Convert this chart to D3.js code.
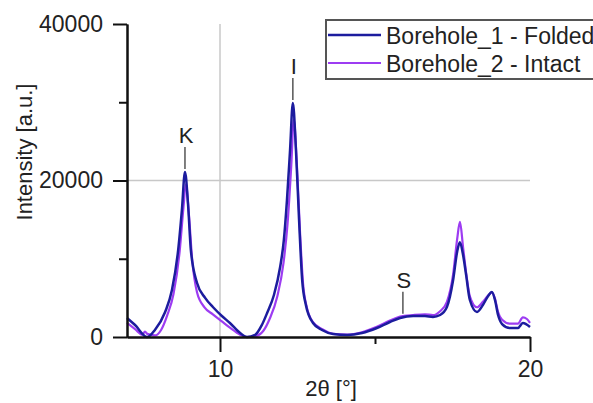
<!DOCTYPE html>
<html>
<head>
<meta charset="utf-8">
<script src="https://cdn.jsdelivr.net/npm/d3@7"></script>
<style>
body { margin: 0; background: #fff; }
text { font-family: "Liberation Sans", Arial, sans-serif; fill: #222; }
</style>
</head>
<body>
<div id="container"></div>
<script>
// two-theta positions (deg) and intensities
var folded = [
  [7.00, 2430], [7.26, 1530], [7.65, 0], [7.90, 900], [8.23, 3200], [8.45, 6000],
  [8.65, 11100], [8.77, 16200], [8.87, 21100], [8.97, 16900], [9.06, 11100],
  [9.26, 6900], [9.52, 5000], [9.77, 3830], [10.06, 2680], [10.32, 1790],
  [10.65, 510], [10.87, 0], [11.13, 260], [11.35, 1530], [11.52, 3070],
  [11.74, 5370], [11.94, 8950], [12.06, 12400], [12.16, 17500], [12.26, 23900],
  [12.35, 29900], [12.45, 23900], [12.55, 15000], [12.65, 7300], [12.77, 4090],
  [13.00, 1790], [13.29, 900], [13.65, 380], [14.10, 260], [14.58, 510],
  [15.06, 1150], [15.48, 1920], [15.81, 2430], [16.23, 2680], [16.61, 2680],
  [16.87, 2560], [17.10, 2810], [17.32, 3830], [17.52, 7280], [17.65, 10900],
  [17.74, 12100], [17.84, 10500], [17.94, 7900], [18.06, 4730], [18.29, 3200],
  [18.48, 4090], [18.65, 5240], [18.77, 5750], [18.87, 4730], [18.97, 2810],
  [19.10, 1660], [19.35, 1150], [19.61, 1150], [19.77, 1790], [20.00, 1280]
];
var intact = [
  [7.00, 1800], [7.26, 1000], [7.50, 300], [7.58, 700], [7.65, 400], [7.90, 200], [8.10, 900],
  [8.30, 2800], [8.50, 5500], [8.70, 11000], [8.82, 16500], [8.90, 19500],
  [9.00, 15500], [9.10, 10000], [9.26, 5700], [9.50, 3800], [9.77, 2900],
  [10.06, 2000], [10.32, 1200], [10.65, 300], [10.87, 0], [11.13, 100],
  [11.40, 800], [11.60, 2300], [11.85, 5200], [12.05, 9500], [12.18, 14500],
  [12.30, 22000], [12.38, 27800], [12.48, 22000], [12.58, 13500], [12.68, 6800],
  [12.80, 3800], [13.00, 1900], [13.30, 1000], [13.65, 400], [14.10, 300],
  [14.58, 600], [15.06, 1300], [15.48, 2100], [15.81, 2600], [16.23, 2800],
  [16.61, 2900], [16.87, 2800], [17.10, 3300], [17.32, 4500], [17.52, 8000],
  [17.65, 12500], [17.74, 14700], [17.84, 11500], [17.94, 8200], [18.06, 5200],
  [18.29, 3800], [18.48, 4500], [18.65, 5300], [18.77, 5700], [18.87, 4900],
  [18.97, 3200], [19.10, 2200], [19.35, 1700], [19.61, 1700], [19.77, 2500],
  [19.90, 2300], [20.00, 1800]
];
var seriesNames = ["Borehole_1 - Folded", "Borehole_2 - Intact"];
var peaks = [{label: "K", x: 8.87, y: 21100}, {label: "I", x: 12.35, y: 29900}, {label: "S", x: 15.9, y: 2600}];
var xMajor = [10, 20], xMinor = [15];
var yMajor = [0, 20000, 40000], yMinor = [10000, 30000];

var width = 593, height = 403;
var svg = d3.select("#container").append("svg")
    .attr("width", width)
    .attr("height", height);

var x = d3.scaleLinear().domain([7, 20]).range([127, 530]);
var y = d3.scaleLinear().domain([0, 40000]).range([337, 24]);

// grid lines at 10 and 20000
svg.append("line")
   .attr("x1", x(10)).attr("x2", x(10))
   .attr("y1", y(40000)).attr("y2", y(0))
   .attr("stroke", "#c8c8c8").attr("stroke-width", 1.5);
svg.append("line")
   .attr("x1", x(7)).attr("x2", x(20))
   .attr("y1", y(20000)).attr("y2", y(20000))
   .attr("stroke", "#c8c8c8").attr("stroke-width", 1.5);

var line = d3.line().x(d => x(d[0])).y(d => y(d[1])).curve(d3.curveMonotoneX);

svg.append("path").datum(intact)
   .attr("d", line).attr("fill", "none")
   .attr("stroke", "#9d3cf2").attr("stroke-width", 2.2);
svg.append("path").datum(folded)
   .attr("d", line).attr("fill", "none")
   .attr("stroke", "#1c1c9e").attr("stroke-width", 2.5);

// axes
function styleAxis(g) {
  g.selectAll(".domain, .tick line").attr("stroke", "#111").attr("stroke-width", 2);
  g.selectAll(".tick text").style("font-size", "23px").attr("fill", "#222");
}
svg.append("g")
   .attr("transform", "translate(" + x(7) + ",0)")
   .call(d3.axisLeft(y).tickValues(yMinor).tickSize(8).tickFormat("").tickSizeOuter(0))
   .call(styleAxis);
svg.append("g")
   .attr("transform", "translate(" + x(7) + ",0)")
   .call(d3.axisLeft(y).tickValues(yMajor).tickSize(14).tickPadding(10).tickFormat(d3.format("d")).tickSizeOuter(0))
   .call(styleAxis);
svg.append("g")
   .attr("transform", "translate(0," + y(0) + ")")
   .call(d3.axisBottom(x).tickValues(xMinor).tickSize(7).tickFormat("").tickSizeOuter(0))
   .call(styleAxis);
svg.append("g")
   .attr("transform", "translate(0," + y(0) + ")")
   .call(d3.axisBottom(x).tickValues(xMajor).tickSize(15).tickPadding(9).tickSizeOuter(0))
   .call(styleAxis);

svg.append("text")
   .attr("transform", "translate(32,152) rotate(-90)")
   .attr("text-anchor", "middle")
   .style("font-size", "22px")
   .text("Intensity [a.u.]");
svg.append("text")
   .attr("x", 331).attr("y", 396)
   .attr("text-anchor", "middle")
   .style("font-size", "22px")
   .text("2θ [°]");

// peak labels
peaks.forEach(function(p) {
  var px = x(p.x), py = y(p.y);
  svg.append("line")
     .attr("x1", px).attr("x2", px)
     .attr("y1", py - 3).attr("y2", py - 25)
     .attr("stroke", "#555").attr("stroke-width", 1.5);
  svg.append("text")
     .attr("x", px + 1).attr("y", py - 29)
     .attr("text-anchor", "middle")
     .style("font-size", "22px")
     .text(p.label);
});

// legend
var leg = svg.append("g");
leg.append("rect")
   .attr("x", 326).attr("y", 20).attr("width", 280).attr("height", 59)
   .attr("fill", "#fff").attr("stroke", "#555").attr("stroke-width", 2);
var colors = ["#1c1c9e", "#9d3cf2"];
seriesNames.forEach(function(name, i) {
  var ly = 35 + i * 28;
  leg.append("line")
     .attr("x1", 328).attr("x2", 381).attr("y1", ly).attr("y2", ly)
     .attr("stroke", colors[i]).attr("stroke-width", i == 0 ? 2.5 : 2);
  leg.append("text")
     .attr("x", 386).attr("y", ly + 9)
     .style("font-size", "23px")
     .text(name);
});
</script>
</body>
</html>
